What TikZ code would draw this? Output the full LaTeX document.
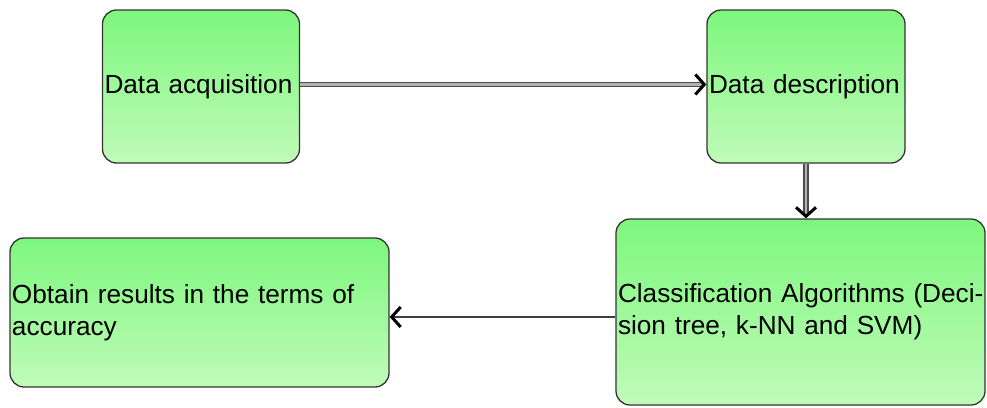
\documentclass[tikz,border=0pt]{standalone}
\usepackage{fontspec}
\setmainfont{Liberation Sans}
\usetikzlibrary{arrows.meta}
\definecolor{stagetop}{RGB}{125,247,125}
\definecolor{stagebot}{RGB}{192,251,184}

\begin{document}
\begin{tikzpicture}[x=1pt,y=1pt,
    stage/.style={rectangle, rounded corners=14pt, draw=black!80, line width=1.3pt,
      top color=stagetop, bottom color=stagebot, inner xsep=2pt, inner ysep=0pt,
      align=left, font=\fontsize{26.2}{32}\selectfont},
    twoline/.style={draw=black!70, double=black!30, double distance=2.6pt, line width=1.3pt, shorten >=3pt},
    barb/.style={draw=black!30, line width=0.5pt, -{Straight Barb[black, line width=3pt, length=9pt, width=20pt]}},
    oneline/.style={draw=black!75, line width=1.3pt, -{Straight Barb[black, line width=3pt, length=9pt, width=20pt]}}]
    \useasboundingbox (0,0) rectangle (987,-407);

    \node[stage, minimum width=197pt, minimum height=153pt, text width=193pt] (acq) at (201,-86.5) {\mbox{Data acquisition}};
    \node[stage, minimum width=198pt, minimum height=153pt, text width=194pt] (desc) at (806,-86.5) {\mbox{Data description}};
    \node[stage, minimum width=369pt, minimum height=186pt, text width=365pt] (algo) at (800.5,-312) {\mbox{Classification Algorithms (Deci-}\\\mbox{sion tree, k-NN and SVM)}};
    \node[stage, minimum width=379pt, minimum height=149pt, text width=375pt] (res) at (199.5,-312.5) {Obtain results in the terms of\\accuracy};

    % double connectors
    \draw[twoline] ([yshift=2pt]acq.east) -- ([yshift=2pt]desc.west);
    \draw[barb] ([yshift=2pt]acq.east) -- ([yshift=2pt]desc.west);
    \draw[twoline] (desc.south) -- (desc.south |- algo.north);
    \draw[barb] (desc.south) -- (desc.south |- algo.north);

    \draw[oneline] ([yshift=-5pt]algo.west) -- ([yshift=-5pt]algo.west -| res.east);
\end{tikzpicture}
\end{document}
